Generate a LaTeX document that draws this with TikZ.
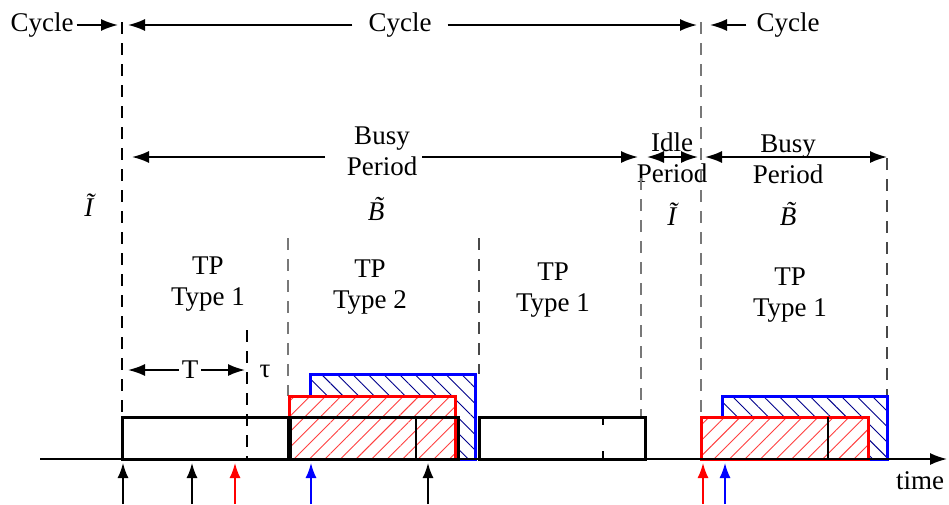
\documentclass[tikz,border=0pt]{standalone}
\usepackage{fontspec}
\setmainfont{Liberation Serif}
\usetikzlibrary{arrows.meta,positioning,calc,patterns.meta}
\definecolor{GrisGuia}{RGB}{120,120,120}
\newcommand{\tildeB}{\textit{B\llap{\raisebox{0.2em}{˜}\kern0.06em}}}

\begin{document}
\begin{tikzpicture}[x=1pt, y=-1pt,
    font=\fontsize{27}{31}\selectfont,
    lbl/.style={inner sep=3pt, align=center},
    guia/.style={draw=GrisGuia, line width=1.6pt, dash pattern=on 12pt off 9pt},
    guianegra/.style={guia, draw=black},
    flecha/.style={line width=1.8pt, -{Latex[length=17pt,width=12pt]}},
    dobleflecha/.style={line width=1.8pt, {Latex[length=17pt,width=12pt]}-{Latex[length=17pt,width=12pt]}},
    llegada/.style={line width=1.6pt, -{Latex[length=15pt,width=11pt]}},
    caja/.style={draw=black, line width=3pt},
    rayaroja/.style={draw=red, line width=3pt, preaction={fill=white}, pattern={Lines[angle=45,distance=11pt,line width=0.9pt]}, pattern color=red!75},
    rayaazul/.style={draw=blue, line width=3pt, preaction={fill=white}, pattern={Lines[angle=-45,distance=11pt,line width=0.9pt]}, pattern color=blue!55!black}
  ]
    \useasboundingbox (0,0) rectangle (949,504);

    \node[lbl] (ciclo1) at (42,25) {Cycle};
    \node[lbl, inner xsep=16pt] (ciclo2) at (400,25) {Cycle};
    \node[lbl, inner xsep=10pt] (ciclo3) at (788,25) {Cycle};
    \coordinate (v1) at (122,22);
    \coordinate (v2) at (701,22);
    \draw[flecha] (ciclo1.east) -- ([xshift=-4]v1 |- ciclo1.east);
    \draw[flecha] (ciclo2.west) -- ([xshift=6]v1 |- ciclo2.west);
    \draw[flecha] (ciclo2.east) -- ([xshift=-4]v2 |- ciclo2.east);
    \draw[flecha] (ciclo3.west) -- ([xshift=9]v2 |- ciclo3.west);

    \node[lbl] (ocio0) at (90,205) {\textit{Ĩ}};
    \node[lbl] (bp1) at (382,151) {Busy\\Period};
    \node[lbl] (bt1) at (376,209) {\tildeB};
    \coordinate (bp1a) at (325,157);
    \coordinate (bp1b) at (422,157);
    \coordinate (g1) at (641,178);
    \draw[flecha] (bp1a) -- (132,157);
    \draw[flecha] (bp1b) -- (638,157);

    \node[lbl] (ip) at (672,158) {Idle\\Period};
    \node[lbl] (it) at (673,214) {\textit{Ĩ}};
    \draw[dobleflecha] (647,157) -- (698,157);

    \node[lbl] (bp2) at (788,159) {Busy\\Period};
    \node[lbl] (bt2) at (788,214) {\tildeB};
    \coordinate (v3) at (887,158);
    \draw[dobleflecha] (705,157) -- (v3 |- 0,157);

    \node[lbl] (tp1) at (208,284) {TP\\Type 1};
    \node[lbl] (tp2) at (370,287) {TP\\Type 2};
    \node[lbl] (tp3) at (553,290) {TP\\Type 1};
    \node[lbl] (tp4) at (790,295) {TP\\Type 1};

    \node[lbl] (per) at (190,370) {T};
    \node[lbl] (tau) at (265,371) {τ};
    \draw[flecha] (per.west) -- (128,370);
    \draw[flecha] (per.east) -- (245,370);

    \draw[guianegra] (v1) -- (122,459);
    \draw[guianegra] (247,330) -- (247,459);
    \draw[guia] (288,238) -- (288,396);
    \draw[guia, draw=GrisGuia!60!black] (479,238) -- (479,374);
    \draw[guia] (g1) -- (641,417);
    \draw[guia] (v2) -- (701,417);
    \draw[guia, draw=GrisGuia!60!black] (v3) -- (887,396);

    \draw[rayaazul] (310,374) rectangle (475,459);
    \draw[rayaroja] (289,396) rectangle (455,459);
    \draw[caja] (122,417) rectangle (288,459);
    \draw[caja] (290,417) rectangle (458,459);
    \draw[line width=2pt] (416,417) -- (416,459);
    \draw[caja] (479,417) rectangle (645,459);
    \draw[guianegra, line width=2pt, dash pattern=on 8pt off 26pt] (603,417) -- (603,459);

    \draw[rayaazul] (722,396) rectangle (887,459);
    \draw[rayaroja] (701,417) rectangle (868,459);
    \draw[line width=2pt] (828,417) -- (828,459);

    \node[lbl] (tiempo) at (920,481) {time};
    \draw[line width=1.8pt, -{Latex[length=17pt,width=12pt]}] (40,459) -- (947,459);

    \draw[llegada] (123,504) -- (123,463);
    \draw[llegada] (192,504) -- (192,463);
    \draw[llegada, red] (235,504) -- (235,463);
    \draw[llegada, blue] (311,504) -- (311,463);
    \draw[llegada] (428,504) -- (428,463);
    \draw[llegada, red] (703,504) -- (703,463);
    \draw[llegada, blue] (725,504) -- (725,463);
  \end{tikzpicture}
\end{document}
